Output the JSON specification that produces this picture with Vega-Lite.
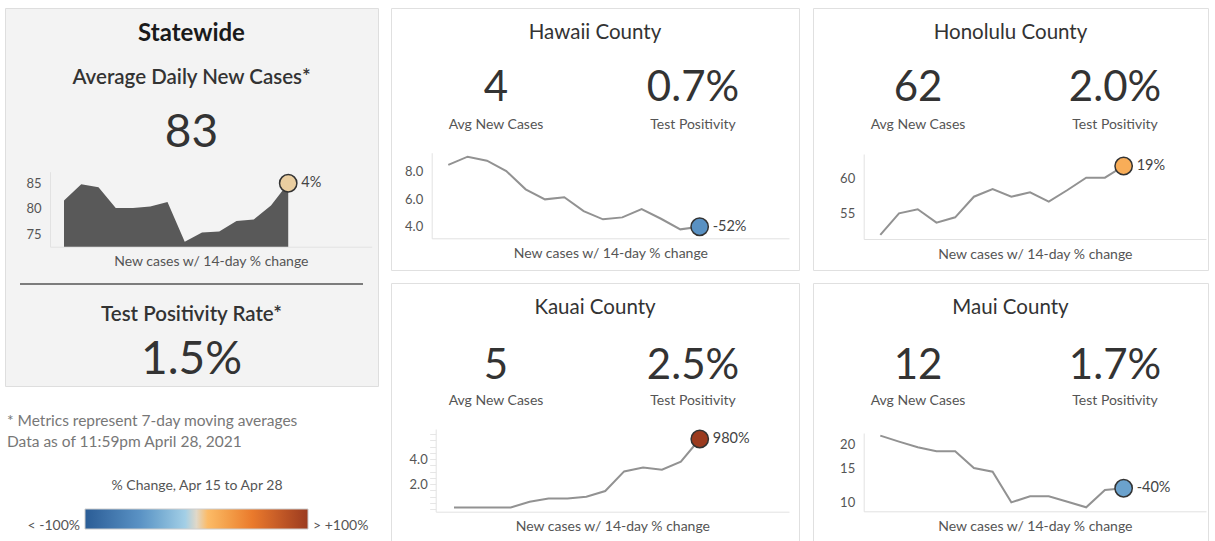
{
  "$schema": "https://vega.github.io/schema/vega-lite/v6.json",
  "background": "white",
  "padding": {"left": 4, "top": 7, "right": 0, "bottom": 0},
  "config": {
    "font": "Lato",
    "view": {"stroke": "#e0e0e0", "strokeWidth": 1},
    "axis": {"grid": false, "ticks": false, "tickSize": 0, "domainColor": "#e2e2e2", "labelColor": "#555555", "labelFontSize": 13, "labelPadding": 9, "titleColor": "#555555", "titleFontSize": 14, "titleFontWeight": "normal", "titlePadding": 8},
    "title": {"fontWeight": "normal", "color": "#333333", "fontSize": 20.5, "anchor": "middle", "frame": "group"},
    "locale": {"number": {"decimal": ".", "thousands": ",", "grouping": [3], "currency": ["$", ""], "minus": "-"}}
  },
  "datasets": {
    "kpi": [
      {"area": "Statewide", "metric": "Average Daily New Cases*", "value": "83"},
      {"area": "Statewide", "metric": "Test Positivity Rate*", "value": "1.5%"},
      {"area": "Hawaii County", "metric": "Avg New Cases", "value": "4"},
      {"area": "Hawaii County", "metric": "Test Positivity", "value": "0.7%"},
      {"area": "Honolulu County", "metric": "Avg New Cases", "value": "62"},
      {"area": "Honolulu County", "metric": "Test Positivity", "value": "2.0%"},
      {"area": "Kauai County", "metric": "Avg New Cases", "value": "5"},
      {"area": "Kauai County", "metric": "Test Positivity", "value": "2.5%"},
      {"area": "Maui County", "metric": "Avg New Cases", "value": "12"},
      {"area": "Maui County", "metric": "Test Positivity", "value": "1.7%"}
    ],
    "change": [
      {"area": "Statewide", "pct": 0.04},
      {"area": "Hawaii County", "pct": -0.52},
      {"area": "Honolulu County", "pct": 0.19},
      {"area": "Kauai County", "pct": 9.8},
      {"area": "Maui County", "pct": -0.40}
    ],
    "trend": [
      {"area": "Statewide", "day": 1, "cases": 81.7}, {"area": "Statewide", "day": 2, "cases": 84.9}, {"area": "Statewide", "day": 3, "cases": 84.3}, {"area": "Statewide", "day": 4, "cases": 80.2}, {"area": "Statewide", "day": 5, "cases": 80.2}, {"area": "Statewide", "day": 6, "cases": 80.5}, {"area": "Statewide", "day": 7, "cases": 81.4}, {"area": "Statewide", "day": 8, "cases": 73.5}, {"area": "Statewide", "day": 9, "cases": 75.3}, {"area": "Statewide", "day": 10, "cases": 75.5}, {"area": "Statewide", "day": 11, "cases": 77.6}, {"area": "Statewide", "day": 12, "cases": 77.9}, {"area": "Statewide", "day": 13, "cases": 80.7}, {"area": "Statewide", "day": 14, "cases": 85.1},
      {"area": "Hawaii County", "day": 1, "cases": 8.49}, {"area": "Hawaii County", "day": 2, "cases": 9.09}, {"area": "Hawaii County", "day": 3, "cases": 8.8}, {"area": "Hawaii County", "day": 4, "cases": 8.05}, {"area": "Hawaii County", "day": 5, "cases": 6.72}, {"area": "Hawaii County", "day": 6, "cases": 5.99}, {"area": "Hawaii County", "day": 7, "cases": 6.14}, {"area": "Hawaii County", "day": 8, "cases": 5.14}, {"area": "Hawaii County", "day": 9, "cases": 4.54}, {"area": "Hawaii County", "day": 10, "cases": 4.68}, {"area": "Hawaii County", "day": 11, "cases": 5.29}, {"area": "Hawaii County", "day": 12, "cases": 4.58}, {"area": "Hawaii County", "day": 13, "cases": 3.81}, {"area": "Hawaii County", "day": 14, "cases": 4.0},
      {"area": "Honolulu County", "day": 1, "cases": 51.85}, {"area": "Honolulu County", "day": 2, "cases": 55.0}, {"area": "Honolulu County", "day": 3, "cases": 55.59}, {"area": "Honolulu County", "day": 4, "cases": 53.64}, {"area": "Honolulu County", "day": 5, "cases": 54.42}, {"area": "Honolulu County", "day": 6, "cases": 57.42}, {"area": "Honolulu County", "day": 7, "cases": 58.54}, {"area": "Honolulu County", "day": 8, "cases": 57.42}, {"area": "Honolulu County", "day": 9, "cases": 58.06}, {"area": "Honolulu County", "day": 10, "cases": 56.7}, {"area": "Honolulu County", "day": 11, "cases": 58.4}, {"area": "Honolulu County", "day": 12, "cases": 60.19}, {"area": "Honolulu County", "day": 13, "cases": 60.19}, {"area": "Honolulu County", "day": 14, "cases": 61.89},
      {"area": "Kauai County", "day": 1, "cases": 0.13}, {"area": "Kauai County", "day": 2, "cases": 0.13}, {"area": "Kauai County", "day": 3, "cases": 0.13}, {"area": "Kauai County", "day": 4, "cases": 0.13}, {"area": "Kauai County", "day": 5, "cases": 0.59}, {"area": "Kauai County", "day": 6, "cases": 0.85}, {"area": "Kauai County", "day": 7, "cases": 0.85}, {"area": "Kauai County", "day": 8, "cases": 0.99}, {"area": "Kauai County", "day": 9, "cases": 1.44}, {"area": "Kauai County", "day": 10, "cases": 3.01}, {"area": "Kauai County", "day": 11, "cases": 3.33}, {"area": "Kauai County", "day": 12, "cases": 3.15}, {"area": "Kauai County", "day": 13, "cases": 3.79}, {"area": "Kauai County", "day": 14, "cases": 5.6},
      {"area": "Maui County", "day": 1, "cases": 22.1}, {"area": "Maui County", "day": 2, "cases": 20.57}, {"area": "Maui County", "day": 3, "cases": 19.24}, {"area": "Maui County", "day": 4, "cases": 18.35}, {"area": "Maui County", "day": 5, "cases": 18.35}, {"area": "Maui County", "day": 6, "cases": 15.04}, {"area": "Maui County", "day": 7, "cases": 14.39}, {"area": "Maui County", "day": 8, "cases": 10.0}, {"area": "Maui County", "day": 9, "cases": 10.75}, {"area": "Maui County", "day": 10, "cases": 10.75}, {"area": "Maui County", "day": 11, "cases": 10.08}, {"area": "Maui County", "day": 12, "cases": 9.43}, {"area": "Maui County", "day": 13, "cases": 11.58}, {"area": "Maui County", "day": 14, "cases": 11.82}
    ]
  },
  "spacing": 11,
  "resolve": {"scale": {"color": "independent", "size": "independent"}, "legend": {"color": "independent", "size": "independent"}},
  "hconcat": [
    {
      "spacing": 27,
      "resolve": {"scale": {"color": "independent", "size": "independent"}, "legend": {"color": "independent", "size": "independent"}},
      "vconcat": [
        {
          "width": 373, "height": 378,
          "view": {"fill": "#f3f3f3", "stroke": "#dedede"},
          "title": {"text": "Statewide", "fontWeight": "bold", "fontSize": 24, "color": "#1a1a1a", "offset": -38},
          "resolve": {"scale": {"x": "independent", "y": "independent", "color": "independent", "size": "independent"}},
          "layer": [
            {
              "data": {"name": "kpi"},
              "transform": [{"filter": "datum.area === 'Statewide'"}],
              "mark": {"type": "text", "fontSize": 20.5, "fontWeight": 600, "color": "#333333", "baseline": "middle"},
              "encoding": {
                "y": {"field": "metric", "type": "nominal", "scale": {"type": "point", "domain": ["Average Daily New Cases*", "Test Positivity Rate*"], "range": [70, 307], "padding": 0}, "axis": null},
                "text": {"field": "metric", "type": "nominal"}
              }
            },
            {
              "data": {"name": "kpi"},
              "transform": [{"filter": "datum.area === 'Statewide'"}],
              "mark": {"type": "text", "fontSize": 46, "color": "#333333", "baseline": "middle"},
              "encoding": {
                "y": {"field": "metric", "type": "nominal", "scale": {"type": "point", "domain": ["Average Daily New Cases*", "Test Positivity Rate*"], "range": [125, 352], "padding": 0}, "axis": null},
                "text": {"field": "value", "type": "nominal"}
              }
            },
            {
              "data": {"name": "kpi"},
              "transform": [{"filter": "datum.area === 'Statewide' && datum.metric === 'Test Positivity Rate*'"}],
              "mark": {"type": "rule", "color": "#555555", "strokeWidth": 1.3},
              "encoding": {
                "y": {"field": "metric", "type": "nominal", "scale": {"type": "point", "domain": ["Average Daily New Cases*", "Test Positivity Rate*"], "range": [0, 276], "padding": 0}, "axis": null},
                "x": {"datum": 0, "type": "quantitative", "scale": {"domain": [0, 1], "range": [15, 358]}, "axis": null},
                "x2": {"datum": 1}
              }
            },
            {
              "data": {"name": "trend"},
              "transform": [{"filter": "datum.area === 'Statewide'"}],
              "encoding": {
                "x": {"field": "day", "type": "quantitative", "scale": {"domain": [0.188, 18.84], "range": [45, 366.7], "nice": false, "zero": false}, "axis": {"orient": "bottom", "offset": -139.3, "labels": false, "title": "New cases w/ 14-day % change"}},
                "y": {"field": "cases", "type": "quantitative", "scale": {"domain": [72.5, 87.4], "range": [238.7, 163.7], "nice": false, "zero": false}, "axis": {"orient": "left", "offset": -45, "values": [75, 80, 85], "format": "d", "title": null}}
              },
              "layer": [
                {"mark": {"type": "area", "color": "#595959", "opacity": 1}, "encoding": {"y2": {"datum": 72.5}}},
                {
                  "transform": [{"filter": "datum.day === 14"}, {"lookup": "area", "from": {"data": {"name": "change"}, "key": "area", "fields": ["pct"]}}],
                  "mark": {"type": "point", "filled": true, "size": 300, "stroke": "#333333", "strokeWidth": 1.5, "opacity": 1},
                  "encoding": {"color": {"field": "pct", "type": "quantitative", "scale": {"type": "linear", "domain": [-1, -0.5, -0.1, 0, 0.1, 0.5, 1], "range": ["#2a5d96", "#5b93c5", "#a3cfe6", "#e0d8c8", "#fcbb67", "#ea7a2c", "#9b3b1f"], "clamp": true}, "legend": null}}
                },
                {
                  "transform": [{"filter": "datum.day === 14"}, {"lookup": "area", "from": {"data": {"name": "change"}, "key": "area", "fields": ["pct"]}}],
                  "mark": {"type": "text", "align": "left", "baseline": "middle", "dx": 13, "fontSize": 14.5, "color": "#444444"},
                  "encoding": {"text": {"field": "pct", "type": "quantitative", "format": ".0%"}}
                }
              ]
            }
          ]
        },
        {
          "width": 373, "height": 20,
          "view": {"stroke": null, "fill": null},
          "title": {"text": "* Metrics represent 7-day moving averages", "subtitle": "Data as of 11:59pm April 28, 2021", "anchor": "start", "frame": "group", "fontSize": 15.5, "color": "#777777", "subtitleFontSize": 15.5, "subtitleColor": "#777777", "subtitlePadding": 5, "offset": 8, "dx": 2},
          "data": {"name": "change"},
          "mark": {"type": "point", "opacity": 0},
          "encoding": {
            "color": {
              "field": "pct", "type": "quantitative",
              "scale": {"type": "linear", "domain": [-1, -0.5, -0.1, 0, 0.1, 0.5, 1], "range": ["#2a5d96", "#5b93c5", "#a3cfe6", "#e0d8c8", "#fcbb67", "#ea7a2c", "#9b3b1f"], "clamp": true},
              "legend": {
                "type": "gradient", "orient": "none", "legendX": 80, "legendY": 21, "direction": "horizontal",
                "gradientLength": 223, "gradientThickness": 20, "gradientStrokeColor": "#cccccc", "gradientStrokeWidth": 1,
                "title": "% Change, Apr 15 to Apr 28", "titleAnchor": "middle", "titleFontSize": 14, "titleFontWeight": "normal", "titleColor": "#555555", "titlePadding": 16,
                "values": [-1, 1],
                "labelExpr": "datum.value < 0 ? '< -100%' : '> +100%'",
                "labelBaseline": "middle", "labelOffset": -10, "labelFontSize": 14, "labelColor": "#555555",
                "encoding": {"labels": {"align": {"condition": {"test": "datum.value < 0", "value": "right"}, "value": "left"}, "dx": {"condition": {"test": "datum.value < 0", "value": -5}, "value": 5}}}
              }
            }
          }
        }
      ]
    },
    {
      "spacing": 11,
      "resolve": {"scale": {"color": "independent", "size": "independent"}, "legend": {"color": "independent", "size": "independent"}},
      "vconcat": [
        {
          "spacing": 12,
          "resolve": {"scale": {"color": "independent", "size": "independent"}, "legend": {"color": "independent", "size": "independent"}},
          "hconcat": [
            {
              "width": 408, "height": 262,
              "view": {"fill": "white", "stroke": "#e0e0e0"},
              "title": {"text": "Hawaii County", "offset": -35},
              "resolve": {"scale": {"x": "independent", "y": "independent", "color": "independent", "size": "independent"}},
              "layer": [
                {
                  "data": {"name": "kpi"},
                  "transform": [{"filter": "datum.area === 'Hawaii County'"}, {"fold": ["metric", "value"], "as": ["part", "text"]}],
                  "mark": {"type": "text", "baseline": "middle"},
                  "encoding": {
                    "x": {"field": "metric", "type": "nominal", "scale": {"type": "point", "domain": ["Avg New Cases", "Test Positivity"], "range": [6.5, 400.5], "padding": 0.5}, "axis": null},
                    "y": {"field": "part", "type": "nominal", "scale": {"type": "point", "domain": ["value", "metric"], "range": [80, 117], "padding": 0}, "axis": null},
                    "text": {"field": "text", "type": "nominal"},
                    "size": {"field": "part", "type": "ordinal", "scale": {"domain": ["value", "metric"], "range": [42, 14]}, "legend": null},
                    "color": {"field": "part", "type": "nominal", "scale": {"domain": ["value", "metric"], "range": ["#333333", "#555555"]}, "legend": null}
                  }
                },
                {
                  "data": {"name": "trend"},
                  "transform": [{"filter": "datum.area === 'Hawaii County'"}],
                  "encoding": {
                    "x": {"field": "day", "type": "quantitative", "scale": {"domain": [0.142, 18.62], "range": [40.7, 398], "nice": false, "zero": false}, "axis": {"orient": "bottom", "offset": -31.7, "labels": false, "title": "New cases w/ 14-day % change"}},
                    "y": {"field": "cases", "type": "quantitative", "scale": {"domain": [3.16, 9.38], "range": [230.3, 144.7], "nice": false, "zero": false}, "axis": {"orient": "left", "offset": -40.7, "values": [4, 6, 8], "format": ".1f", "title": null}}
                  },
                  "layer": [
                    {"mark": {"type": "line", "color": "#929292", "strokeWidth": 2}},
                    {
                      "transform": [{"filter": "datum.day === 14"}, {"lookup": "area", "from": {"data": {"name": "change"}, "key": "area", "fields": ["pct"]}}],
                      "mark": {"type": "point", "filled": true, "size": 300, "stroke": "#333333", "strokeWidth": 1.5, "opacity": 1},
                      "encoding": {"color": {"field": "pct", "type": "quantitative", "scale": {"type": "linear", "domain": [-1, -0.5, -0.1, 0, 0.1, 0.5, 1], "range": ["#2a5d96", "#5b93c5", "#a3cfe6", "#e0d8c8", "#fcbb67", "#ea7a2c", "#9b3b1f"], "clamp": true}, "legend": null}}
                    },
                    {
                      "transform": [{"filter": "datum.day === 14"}, {"lookup": "area", "from": {"data": {"name": "change"}, "key": "area", "fields": ["pct"]}}],
                      "mark": {"type": "text", "align": "left", "baseline": "middle", "dx": 13, "fontSize": 14.5, "color": "#444444"},
                      "encoding": {"text": {"field": "pct", "type": "quantitative", "format": ".0%"}}
                    }
                  ]
                }
              ]
            },
            {
              "width": 395, "height": 262,
              "view": {"fill": "white", "stroke": "#e0e0e0"},
              "title": {"text": "Honolulu County", "offset": -35},
              "resolve": {"scale": {"x": "independent", "y": "independent", "color": "independent", "size": "independent"}},
              "layer": [
                {
                  "data": {"name": "kpi"},
                  "transform": [{"filter": "datum.area === 'Honolulu County'"}, {"fold": ["metric", "value"], "as": ["part", "text"]}],
                  "mark": {"type": "text", "baseline": "middle"},
                  "encoding": {
                    "x": {"field": "metric", "type": "nominal", "scale": {"type": "point", "domain": ["Avg New Cases", "Test Positivity"], "range": [6.5, 400.5], "padding": 0.5}, "axis": null},
                    "y": {"field": "part", "type": "nominal", "scale": {"type": "point", "domain": ["value", "metric"], "range": [80, 117], "padding": 0}, "axis": null},
                    "text": {"field": "text", "type": "nominal"},
                    "size": {"field": "part", "type": "ordinal", "scale": {"domain": ["value", "metric"], "range": [42, 14]}, "legend": null},
                    "color": {"field": "part", "type": "nominal", "scale": {"domain": ["value", "metric"], "range": ["#333333", "#555555"]}, "legend": null}
                  }
                },
                {
                  "data": {"name": "trend"},
                  "transform": [{"filter": "datum.area === 'Honolulu County'"}],
                  "encoding": {
                    "x": {"field": "day", "type": "quantitative", "scale": {"domain": [0.113, 18.4], "range": [50.7, 393], "nice": false, "zero": false}, "axis": {"orient": "bottom", "offset": -31, "labels": false, "title": "New cases w/ 14-day % change"}},
                    "y": {"field": "cases", "type": "quantitative", "scale": {"domain": [51.26, 63.64], "range": [231, 146], "nice": false, "zero": false}, "axis": {"orient": "left", "offset": -50.7, "values": [55, 60], "format": "d", "title": null}}
                  },
                  "layer": [
                    {"mark": {"type": "line", "color": "#929292", "strokeWidth": 2}},
                    {
                      "transform": [{"filter": "datum.day === 14"}, {"lookup": "area", "from": {"data": {"name": "change"}, "key": "area", "fields": ["pct"]}}],
                      "mark": {"type": "point", "filled": true, "size": 300, "stroke": "#333333", "strokeWidth": 1.5, "opacity": 1},
                      "encoding": {"color": {"field": "pct", "type": "quantitative", "scale": {"type": "linear", "domain": [-1, -0.5, -0.1, 0, 0.1, 0.5, 1], "range": ["#2a5d96", "#5b93c5", "#a3cfe6", "#e0d8c8", "#fcbb67", "#ea7a2c", "#9b3b1f"], "clamp": true}, "legend": null}}
                    },
                    {
                      "transform": [{"filter": "datum.day === 14"}, {"lookup": "area", "from": {"data": {"name": "change"}, "key": "area", "fields": ["pct"]}}],
                      "mark": {"type": "text", "align": "left", "baseline": "middle", "dx": 13, "fontSize": 14.5, "color": "#444444"},
                      "encoding": {"text": {"field": "pct", "type": "quantitative", "format": ".0%"}}
                    }
                  ]
                }
              ]
            }
          ]
        },
        {
          "spacing": 12,
          "resolve": {"scale": {"color": "independent", "size": "independent"}, "legend": {"color": "independent", "size": "independent"}},
          "hconcat": [
            {
              "width": 408, "height": 262,
              "view": {"fill": "white", "stroke": "#e0e0e0"},
              "title": {"text": "Kauai County", "offset": -35},
              "resolve": {"scale": {"x": "independent", "y": "independent", "color": "independent", "size": "independent"}},
              "layer": [
                {
                  "data": {"name": "kpi"},
                  "transform": [{"filter": "datum.area === 'Kauai County'"}, {"fold": ["metric", "value"], "as": ["part", "text"]}],
                  "mark": {"type": "text", "baseline": "middle"},
                  "encoding": {
                    "x": {"field": "metric", "type": "nominal", "scale": {"type": "point", "domain": ["Avg New Cases", "Test Positivity"], "range": [6.5, 400.5], "padding": 0.5}, "axis": null},
                    "y": {"field": "part", "type": "nominal", "scale": {"type": "point", "domain": ["value", "metric"], "range": [83, 118], "padding": 0}, "axis": null},
                    "text": {"field": "text", "type": "nominal"},
                    "size": {"field": "part", "type": "ordinal", "scale": {"domain": ["value", "metric"], "range": [42, 14]}, "legend": null},
                    "color": {"field": "part", "type": "nominal", "scale": {"domain": ["value", "metric"], "range": ["#333333", "#555555"]}, "legend": null}
                  }
                },
                {
                  "data": {"name": "trend"},
                  "transform": [{"filter": "datum.area === 'Kauai County'"}],
                  "encoding": {
                    "x": {"field": "day", "type": "quantitative", "scale": {"domain": [0.032, 18.72], "range": [44.7, 398], "nice": false, "zero": false}, "axis": {"orient": "bottom", "offset": -33.3, "labels": false, "title": "New cases w/ 14-day % change"}},
                    "y": {"field": "cases", "type": "quantitative", "scale": {"domain": [-0.21, 6.4], "range": [228.7, 146], "nice": false, "zero": false}, "axis": {"orient": "left", "offset": -44.7, "values": [0, 0.5, 1, 1.5, 2, 2.5, 3, 3.5, 4, 4.5, 5, 5.5, 6], "labelExpr": "datum.value == 2 || datum.value == 4 ? format(datum.value, '.1f') : ''", "ticks": true, "tickSize": 6, "tickColor": "#e6e6e6", "labelPadding": 2.5, "title": null}}
                  },
                  "layer": [
                    {"mark": {"type": "line", "color": "#929292", "strokeWidth": 2}},
                    {
                      "transform": [{"filter": "datum.day === 14"}, {"lookup": "area", "from": {"data": {"name": "change"}, "key": "area", "fields": ["pct"]}}],
                      "mark": {"type": "point", "filled": true, "size": 300, "stroke": "#333333", "strokeWidth": 1.5, "opacity": 1},
                      "encoding": {"color": {"field": "pct", "type": "quantitative", "scale": {"type": "linear", "domain": [-1, -0.5, -0.1, 0, 0.1, 0.5, 1], "range": ["#2a5d96", "#5b93c5", "#a3cfe6", "#e0d8c8", "#fcbb67", "#ea7a2c", "#9b3b1f"], "clamp": true}, "legend": null}}
                    },
                    {
                      "transform": [{"filter": "datum.day === 14"}, {"lookup": "area", "from": {"data": {"name": "change"}, "key": "area", "fields": ["pct"]}}],
                      "mark": {"type": "text", "align": "left", "baseline": "middle", "dx": 13, "fontSize": 14.5, "color": "#444444"},
                      "encoding": {"text": {"field": "pct", "type": "quantitative", "format": ".0%"}}
                    }
                  ]
                }
              ]
            },
            {
              "width": 395, "height": 262,
              "view": {"fill": "white", "stroke": "#e0e0e0"},
              "title": {"text": "Maui County", "offset": -35},
              "resolve": {"scale": {"x": "independent", "y": "independent", "color": "independent", "size": "independent"}},
              "layer": [
                {
                  "data": {"name": "kpi"},
                  "transform": [{"filter": "datum.area === 'Maui County'"}, {"fold": ["metric", "value"], "as": ["part", "text"]}],
                  "mark": {"type": "text", "baseline": "middle"},
                  "encoding": {
                    "x": {"field": "metric", "type": "nominal", "scale": {"type": "point", "domain": ["Avg New Cases", "Test Positivity"], "range": [6.5, 400.5], "padding": 0.5}, "axis": null},
                    "y": {"field": "part", "type": "nominal", "scale": {"type": "point", "domain": ["value", "metric"], "range": [83, 118], "padding": 0}, "axis": null},
                    "text": {"field": "text", "type": "nominal"},
                    "size": {"field": "part", "type": "ordinal", "scale": {"domain": ["value", "metric"], "range": [42, 14]}, "legend": null},
                    "color": {"field": "part", "type": "nominal", "scale": {"domain": ["value", "metric"], "range": ["#333333", "#555555"]}, "legend": null}
                  }
                },
                {
                  "data": {"name": "trend"},
                  "transform": [{"filter": "datum.area === 'Maui County'"}],
                  "encoding": {
                    "x": {"field": "day", "type": "quantitative", "scale": {"domain": [0.113, 18.4], "range": [50.7, 393], "nice": false, "zero": false}, "axis": {"orient": "bottom", "offset": -33.7, "labels": false, "title": "New cases w/ 14-day % change"}},
                    "y": {"field": "cases", "type": "quantitative", "scale": {"type": "log", "domain": [8.99, 22.8], "range": [228.3, 150], "nice": false}, "axis": {"orient": "left", "offset": -50.7, "values": [10, 15, 20], "format": "d", "title": null}}
                  },
                  "layer": [
                    {"mark": {"type": "line", "color": "#929292", "strokeWidth": 2}},
                    {
                      "transform": [{"filter": "datum.day === 14"}, {"lookup": "area", "from": {"data": {"name": "change"}, "key": "area", "fields": ["pct"]}}],
                      "mark": {"type": "point", "filled": true, "size": 300, "stroke": "#333333", "strokeWidth": 1.5, "opacity": 1},
                      "encoding": {"color": {"field": "pct", "type": "quantitative", "scale": {"type": "linear", "domain": [-1, -0.5, -0.1, 0, 0.1, 0.5, 1], "range": ["#2a5d96", "#5b93c5", "#a3cfe6", "#e0d8c8", "#fcbb67", "#ea7a2c", "#9b3b1f"], "clamp": true}, "legend": null}}
                    },
                    {
                      "transform": [{"filter": "datum.day === 14"}, {"lookup": "area", "from": {"data": {"name": "change"}, "key": "area", "fields": ["pct"]}}],
                      "mark": {"type": "text", "align": "left", "baseline": "middle", "dx": 13, "fontSize": 14.5, "color": "#444444"},
                      "encoding": {"text": {"field": "pct", "type": "quantitative", "format": ".0%"}}
                    }
                  ]
                }
              ]
            }
          ]
        }
      ]
    }
  ]
}
